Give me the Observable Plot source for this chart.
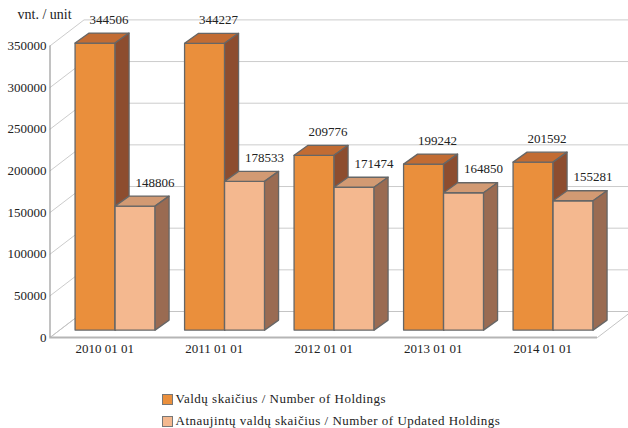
<!DOCTYPE html>
<html><head><meta charset="utf-8">
<script src="https://cdn.jsdelivr.net/npm/d3@7"></script>
<script src="https://cdn.jsdelivr.net/npm/@observablehq/plot@0.6"></script>
<style>
html,body{margin:0;padding:0;background:#fff;width:628px;height:428px;overflow:hidden}
svg{display:block}
#legend{position:absolute;left:162px;top:388px;font:13px "Liberation Serif",serif;color:#222;letter-spacing:.5px}
#legend div{display:flex;align-items:center;height:22px}
#legend i{display:block;width:9px;height:9px;border:1px solid #777;margin-right:2.5px}
</style></head><body>
<div id="chart"></div><div id="legend"></div>
<script>
const dates = ["2010 01 01","2011 01 01","2012 01 01","2013 01 01","2014 01 01"];
const holdings = [344506,344227,209776,199242,201592];
const updated = [148806,178533,171474,164850,155281];
const seriesNames = ["Valdų skaičius / Number of Holdings","Atnaujintų valdų skaičius / Number of Updated Holdings"];
const frontColors = ["#EA8F3C","#F4B88F"];
const topColors = ["#C26C33","#D29A73"];
const sideColors = ["#8D4D2F","#9A6B52"];
const yTicks = [0,50000,100000,150000,200000,250000,300000,350000];

const H = 375, Y0 = 337, Y350 = 45.4;
const unitsPerPx = 350000/(Y0-Y350), slotPx = 109.5;
// oblique projection depths, in data units
const wallX = 34/slotPx, wallY = 26*unitsPerPx;
const barX = 14/slotPx, barY = 10*unitsPerPx, baseY = 7.4*unitsPerPx;
const barStart = 0.229, barW = 40/slotPx;

const polys = [];
function poly(pts, fill){ const id = polys.length ? polys[polys.length-1].id+1 : 0;
  [...pts, pts[0]].forEach(([x,y])=>polys.push({id,x,y,fill})); }
dates.forEach((_,i)=>{
  [holdings[i],updated[i]].forEach((v,s)=>{
    const l=i+barStart+s*barW, r=l+barW, b=baseY, t=baseY+v;
    poly([[l,b],[r,b],[r,t],[l,t]],frontColors[s]);
    poly([[l,t],[r,t],[r+barX,t+barY],[l+barX,t+barY]],topColors[s]);
    poly([[r,b],[r+barX,b+barY],[r+barX,t+barY],[r,t]],sideColors[s]);
  });
});
const labels = dates.flatMap((_,i)=>[holdings[i],updated[i]].map((v,s)=>({
  x:i+barStart+s*barW+barW/2+barX+(s?6/slotPx:0), y:baseY+v+barY, v})));

const wallPts = yTicks.flatMap(t=>[
  {t,x:0,y:t},{t,x:wallX,y:t+wallY},{t,x:5+wallX,y:t+wallY}]);
const floor = [[0,0],[5,0],[5+wallX,wallY],[wallX,wallY],[0,0]].map(([x,y])=>({x,y}));

const plot = Plot.plot({
  width:628,height:H,marginLeft:49.5,marginRight:31,marginTop:Y350,marginBottom:H-Y0,
  style:{fontFamily:"'Liberation Serif',serif",fontSize:"13px",color:"#222",background:"transparent"},
  x:{domain:[0,5]},
  y:{domain:[0,350000]},
  marks:[
    Plot.line(wallPts,{x:"x",y:"y",z:"t",stroke:"#ccc",strokeWidth:1}),
    Plot.line(floor,{x:"x",y:"y",stroke:"#c4c4c4",strokeWidth:1}),
    Plot.ruleX([0],{y1:0,y2:350000,stroke:"#999",strokeWidth:1.2}),
    Plot.ruleY([0],{x1:0,x2:5,stroke:"#b5b5b5",strokeWidth:2}),
    Plot.line(polys,{x:"x",y:"y",z:"id",fill:{value:"fill",scale:null},stroke:"#666",strokeWidth:1.3,strokeLinejoin:"round"}),
    Plot.axisY({ticks:yTicks,tickSize:0,tickPadding:3.5,label:null,tickFormat:d=>String(d),fontSize:13,fill:"#222"}),
    Plot.axisX({ticks:dates.map((_,i)=>i+.5),tickSize:0,tickPadding:6,label:null,tickFormat:d=>dates[d-.5],fontSize:13,fill:"#222"}),
    Plot.text(labels,{x:"x",y:"y",text:d=>String(d.v),dy:-13.5,fill:"#222",fontSize:13}),
    Plot.text(["vnt. / unit"],{frameAnchor:"top-left",dx:-32.5,dy:-31,textAnchor:"start",lineAnchor:"middle",fill:"#222",fontSize:14})
  ]
});
document.getElementById("chart").append(plot);
const lg=document.getElementById("legend");
seriesNames.forEach((n,s)=>{const d=document.createElement("div");
  const sw=document.createElement("i");sw.style.background=frontColors[s];
  d.append(sw,document.createTextNode(n));lg.append(d);});
</script></body></html>
